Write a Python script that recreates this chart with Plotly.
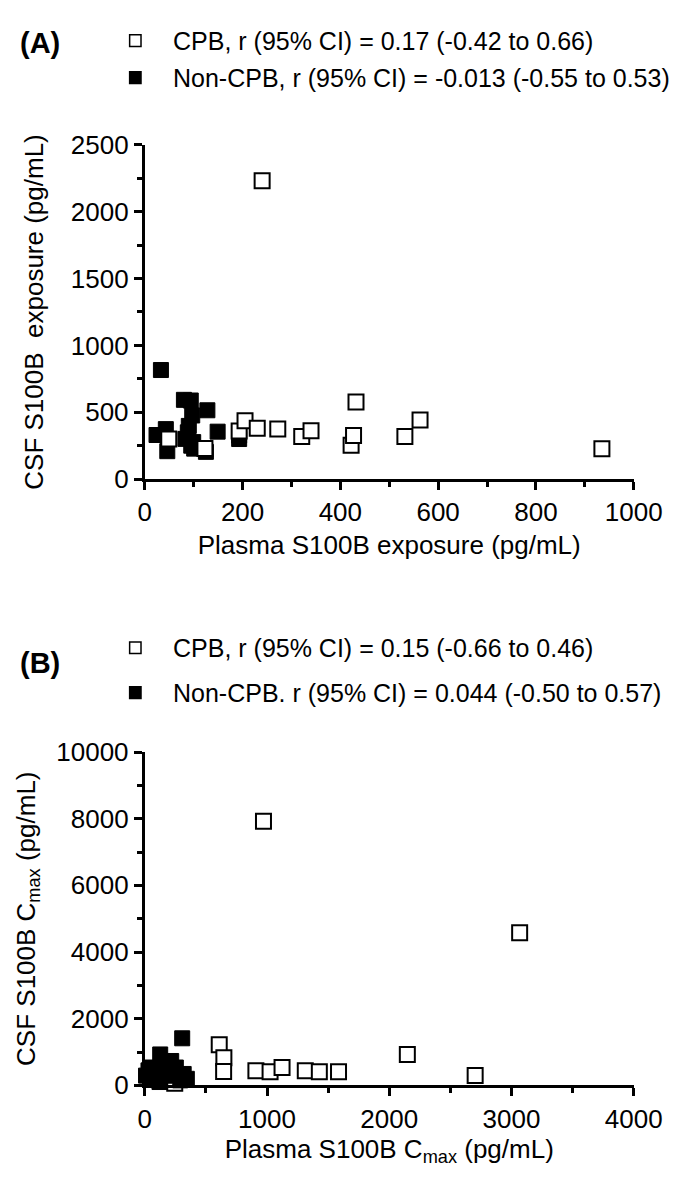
import plotly.graph_objects as go

# Panel A: exposure
a_cpb_x = [49, 123, 193, 205, 230, 272, 321, 340, 422, 427, 432, 532, 563, 935, 240]
a_cpb_y = [300, 230, 360, 437, 381, 374, 318, 362, 253, 326, 576, 318, 442, 228, 2232]
a_non_x = [33, 80, 94, 128, 97, 24, 43, 46, 149, 90, 83, 99, 101, 125, 193, 193, 88, 95]
a_non_y = [816, 593, 588, 515, 476, 330, 374, 209, 355, 398, 301, 277, 228, 204, 326, 300, 350, 250]

# Panel B: Cmax
b_cpb_x = [609, 647, 645, 909, 1025, 1123, 1313, 1428, 1585, 2148, 2703, 3067, 971, 245, 120]
b_cpb_y = [1219, 828, 418, 438, 409, 535, 438, 409, 409, 927, 292, 4582, 7924, 60, 300]
b_non_x = [306, 126, 49, 10, 216, 254, 318, 344, 100, 164, 30, 70, 150, 200, 290, 120, 60, 180]
b_non_y = [1412, 927, 535, 292, 731, 535, 342, 196, 389, 292, 450, 200, 600, 400, 150, 100, 250, 300]

leg_a = ["CPB, r (95% CI) = 0.17 (-0.42 to 0.66)",
         "Non-CPB, r (95% CI) = -0.013 (-0.55 to 0.53)"]
leg_b = ["CPB, r (95% CI) = 0.15 (-0.66 to 0.46)",
         "Non-CPB. r (95% CI) = 0.044 (-0.50 to 0.57)"]

FONT = "Liberation Sans, Arial, Helvetica, sans-serif"
W, H = 685, 1183
FS = 26


def px(x):
    return x / W


def py(y):
    return 1 - y / H


open_m = dict(symbol="square", size=15, color="white", line=dict(color="black", width=2))
fill_m = dict(symbol="square", size=15, color="black", line=dict(color="black", width=1))

fig = go.Figure()
fig.add_trace(go.Scatter(x=a_non_x, y=a_non_y, mode="markers", marker=fill_m, name=leg_a[1],
                         xaxis="x", yaxis="y", showlegend=False, cliponaxis=False))
fig.add_trace(go.Scatter(x=a_cpb_x, y=a_cpb_y, mode="markers", marker=open_m, name=leg_a[0],
                         xaxis="x", yaxis="y", showlegend=False, cliponaxis=False))
fig.add_trace(go.Scatter(x=b_cpb_x, y=b_cpb_y, mode="markers", marker=open_m, name=leg_b[0],
                         xaxis="x2", yaxis="y2", showlegend=False, cliponaxis=False))
fig.add_trace(go.Scatter(x=b_non_x, y=b_non_y, mode="markers", marker=fill_m, name=leg_b[1],
                         xaxis="x2", yaxis="y2", showlegend=False, cliponaxis=False))

xd = [px(137), px(653)]
base = dict(showline=True, linecolor="black", linewidth=3, ticks="outside", ticklen=8,
            tickwidth=3, tickcolor="black", showgrid=False, zeroline=False,
            tickfont=dict(size=FS, color="black", family=FONT), tickformat="d")


def minor(d):
    return dict(dtick=d, ticks="outside", ticklen=5, tickwidth=3, tickcolor="black", showgrid=False)


# Legends (manual: glyph + text)
shapes = []
annotations = []
leg_rows = [(18, leg_a[0], False), (56, leg_a[1], True),
            (641, leg_b[0], False), (687, leg_b[1], True)]
sq = 12
cx = 127
for yc, text, filled in leg_rows:
    shapes.append(dict(type="rect", xref="paper", yref="paper",
                       x0=px(cx - sq / 2), x1=px(cx + sq / 2), y0=py(yc + sq / 2), y1=py(yc - sq / 2),
                       fillcolor="black" if filled else "white",
                       line=dict(color="black", width=1.5)))
    annotations.append(dict(text=text, x=px(165), y=py(yc), xref="paper", yref="paper",
                            xanchor="left", yanchor="middle", showarrow=False,
                            font=dict(size=25, family=FONT, color="black")))

annotations += [
    dict(text="<b>(A)</b>", x=px(3), y=py(21), xref="paper", yref="paper",
         xanchor="left", yanchor="middle", showarrow=False, font=dict(size=29, family=FONT)),
    dict(text="<b>(B)</b>", x=px(3), y=py(657), xref="paper", yref="paper",
         xanchor="left", yanchor="middle", showarrow=False, font=dict(size=29, family=FONT)),
]

fig.update_layout(
    width=W, height=H, margin=dict(l=0, r=0, t=0, b=0),
    paper_bgcolor="white", plot_bgcolor="white", showlegend=False,
    font=dict(family=FONT, size=FS, color="black"),
    xaxis=dict(domain=xd, range=[0, 1000], tick0=0, dtick=200, anchor="y", minor=minor(100),
               title=dict(text="Plasma S100B exposure (pg/mL)", font=dict(size=FS), standoff=10), **base),
    yaxis=dict(domain=[py(468), py(125)], range=[0, 2500], tick0=0, dtick=500, anchor="x", minor=minor(250),
               title=dict(text="CSF S100B  exposure (pg/mL)", font=dict(size=FS), standoff=20), **base),
    xaxis2=dict(domain=xd, range=[0, 4000], tick0=0, dtick=1000, anchor="y2", minor=minor(500),
                title=dict(text="Plasma S100B C<sub>max</sub> (pg/mL)", font=dict(size=FS), standoff=6), **base),
    yaxis2=dict(domain=[py(1090), py(748)], range=[0, 10000], tick0=0, dtick=2000, anchor="x2", minor=minor(1000),
                title=dict(text="CSF S100B C<sub>max</sub> (pg/mL)", font=dict(size=FS), standoff=14), **base),
    shapes=shapes,
    annotations=annotations,
)

fig.write_html("out.html")
